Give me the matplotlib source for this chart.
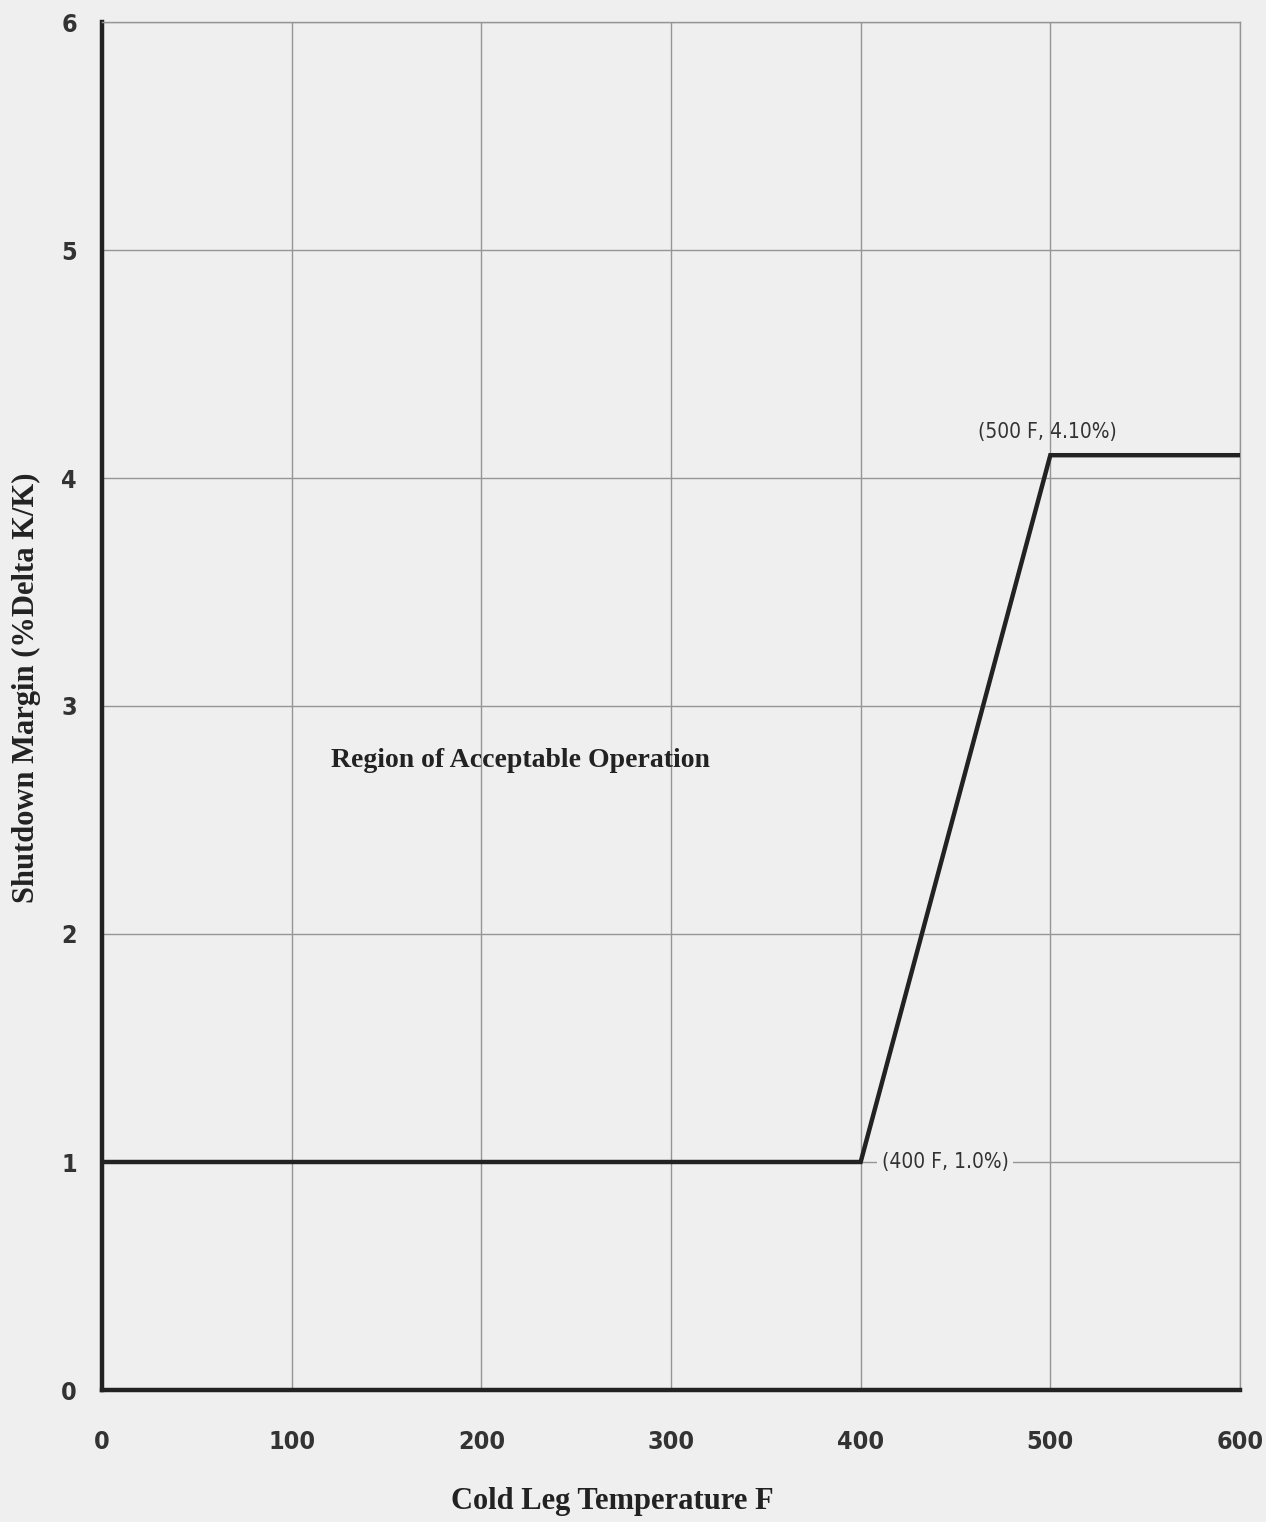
import matplotlib
matplotlib.use("Agg")
import matplotlib.pyplot as plt
from matplotlib import font_manager

cond = [f for f in font_manager.fontManager.ttflist if f.name == "DejaVu Sans" and "ondensed" in str(f.stretch) or "Condensed" in f.fname]
narrow_kw = dict(fontfamily="DejaVu Sans", fontstretch="condensed") if cond else dict(fontfamily="Liberation Sans")
serif = "Liberation Serif"

# data
temp_f = [0, 400, 500, 600]
margin_pct = [1.0, 1.0, 4.10, 4.10]
x_ticks = [0, 100, 200, 300, 400, 500, 600]
y_ticks = [0, 1, 2, 3, 4, 5, 6]
pt_lo = (400, 1.0, "(400 F, 1.0%)")
pt_hi = (500, 4.10, "(500 F, 4.10%)")

bg = "#efefef"
fig = plt.figure(figsize=(12.66, 15.22), dpi=100, facecolor=bg)
ax = fig.add_axes([102/1266, 1 - 1390/1522, (1240-102)/1266, (1390-22)/1522])
ax.set_facecolor(bg)

ax.set_xlim(0, 600)
ax.set_ylim(0, 6)
ax.set_xticks(x_ticks)
ax.set_yticks(y_ticks)
ax.set_xticklabels([str(v) for v in x_ticks], fontweight="bold", fontsize=18, color="#333333", **narrow_kw)
ax.set_yticklabels([str(v) for v in y_ticks], fontweight="bold", fontsize=18, color="#333333", **narrow_kw)
ax.tick_params(axis="both", length=0)
ax.tick_params(axis="x", pad=29)
ax.tick_params(axis="y", pad=18)

ax.grid(True, color="#959595", linewidth=1.0, zorder=1)
ax.set_axisbelow(True)
for s in ["top", "right"]:
    ax.spines[s].set_color("#959595")
    ax.spines[s].set_linewidth(1.0)
for s in ["left", "bottom"]:
    ax.spines[s].set_color("#222222")
    ax.spines[s].set_linewidth(3.2)

ax.plot(temp_f, margin_pct, color="#222222", linewidth=3.2, solid_joinstyle="miter", zorder=3)

ax.text(pt_hi[0] - 38, pt_hi[1] + 0.06, pt_hi[2], fontsize=15,
        color="#333333", ha="left", va="bottom", **narrow_kw)
ax.text(pt_lo[0] + 11, pt_lo[1], pt_lo[2], fontsize=15,
        color="#333333", ha="left", va="center",
        bbox=dict(facecolor=bg, edgecolor="none", pad=3), zorder=4, **narrow_kw)

ax.text(121, 2.76, "Region of Acceptable Operation", fontfamily=serif, fontweight="bold",
        fontsize=20, color="#222222", ha="left", va="center")

ax.set_xlabel("Cold Leg Temperature F", fontfamily=serif, fontweight="bold", fontsize=22,
              color="#222222")
ax.xaxis.set_label_coords((612 - 102) / 1138, -(1502 - 1390) / 1368)
ax.xaxis.label.set_va("center")
ax.set_ylabel("Shutdown Margin (%Delta K/K)", fontfamily=serif, fontweight="bold", fontsize=22,
              color="#222222")
ax.yaxis.set_label_coords((26 - 102) / 1138, (1390 - 688) / 1368)
ax.yaxis.label.set_va("center")

fig.savefig("out.png", dpi=100, facecolor=bg)
